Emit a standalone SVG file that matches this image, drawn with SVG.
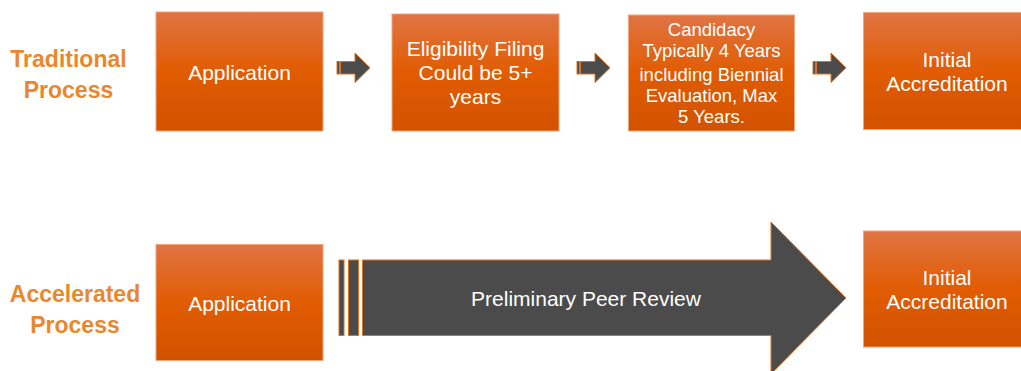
<svg xmlns="http://www.w3.org/2000/svg" width="1021" height="371" viewBox="0 0 1021 371">
  <defs>
    <linearGradient id="boxFill" x1="0" y1="0" x2="0" y2="1">
      <stop offset="0" stop-color="#E07444"/>
      <stop offset="0.5" stop-color="#E15C02"/>
      <stop offset="1" stop-color="#D25200"/>
    </linearGradient>
    <style>
      .box { fill: url(#boxFill); stroke: #F2A47A; stroke-width: 1; }
      .boxText { font-family: "Liberation Sans", Arial, sans-serif; fill: #FFFFFF; text-anchor: middle; font-size: 21px; }
      .small { font-size: 18.5px; }
      .label { font-family: "Liberation Sans", Arial, sans-serif; font-weight: bold; fill: #E9872C; text-anchor: middle; font-size: 23px; }
      .arrow { fill: #4B4B4B; stroke: #E0701E; stroke-width: 1; }
    </style>
  </defs>
  <rect width="1021" height="371" fill="#FFFFFF"/>

  <!-- Row labels -->
  <g id="label-traditional">
    <text class="label" x="68.5" y="67">Traditional</text>
    <text class="label" x="68.5" y="98">Process</text>
  </g>
  <g id="label-accelerated">
    <text class="label" x="75" y="302">Accelerated</text>
    <text class="label" x="75" y="333">Process</text>
  </g>

  <!-- Traditional process steps -->
  <g id="trad-application">
    <rect class="box" x="156" y="12" width="167" height="119"/>
    <text class="boxText" x="239.5" y="80">Application</text>
  </g>
  <g id="trad-eligibility">
    <rect class="box" x="392" y="14" width="167" height="117"/>
    <text class="boxText" x="475.5" y="56">Eligibility Filing</text>
    <text class="boxText" x="475.5" y="80">Could be 5+</text>
    <text class="boxText" x="475.5" y="104">years</text>
  </g>
  <g id="trad-candidacy">
    <rect class="box" x="628.5" y="15" width="166" height="116"/>
    <text class="boxText small" x="711.5" y="36">Candidacy</text>
    <text class="boxText small" x="711.5" y="57">Typically 4 Years</text>
    <text class="boxText small" x="711.5" y="81">including Biennial</text>
    <text class="boxText small" x="711.5" y="102">Evaluation, Max</text>
    <text class="boxText small" x="711.5" y="123">5 Years.</text>
  </g>
  <g id="trad-initial">
    <rect class="box" x="863.5" y="12.5" width="170" height="117"/>
    <text class="boxText" x="947" y="67">Initial</text>
    <text class="boxText" x="947" y="91">Accreditation</text>
  </g>

  <!-- Accelerated process steps -->
  <g id="acc-application">
    <rect class="box" x="156" y="244.5" width="167" height="116"/>
    <text class="boxText" x="239.5" y="311">Application</text>
  </g>
  <g id="acc-initial">
    <rect class="box" x="863.5" y="231" width="170" height="116"/>
    <text class="boxText" x="947" y="285">Initial</text>
    <text class="boxText" x="947" y="309">Accreditation</text>
  </g>

  <!-- Connectors -->
  <g id="connectors">
    <g id="step-arrow-1">
      <rect class="arrow" x="337" y="61.5" width="2.5" height="12.5"/>
      <path class="arrow" d="M340.5 61.5 H355 V53 L370 67.75 L355 82.5 V74 H340.5 Z"/>
    </g>
    <g id="step-arrow-2">
      <rect class="arrow" x="577" y="61.5" width="2.5" height="12.5"/>
      <path class="arrow" d="M580.5 61.5 H595 V53 L610 67.75 L595 82.5 V74 H580.5 Z"/>
    </g>
    <g id="step-arrow-3">
      <rect class="arrow" x="813" y="61.5" width="2.5" height="12.5"/>
      <path class="arrow" d="M816.5 61.5 H831 V53 L846 67.75 L831 82.5 V74 H816.5 Z"/>
    </g>
    <g id="review-arrow">
      <rect class="arrow" x="339" y="260" width="5" height="75.5"/>
      <rect class="arrow" x="348.5" y="260" width="10" height="75.5"/>
      <path class="arrow" d="M362.5 260 H771 V222 L846 298 L771 374 V335.5 H362.5 Z"/>
      <text class="boxText" x="586" y="306" font-size="20px">Preliminary Peer Review</text>
    </g>
  </g>
</svg>
